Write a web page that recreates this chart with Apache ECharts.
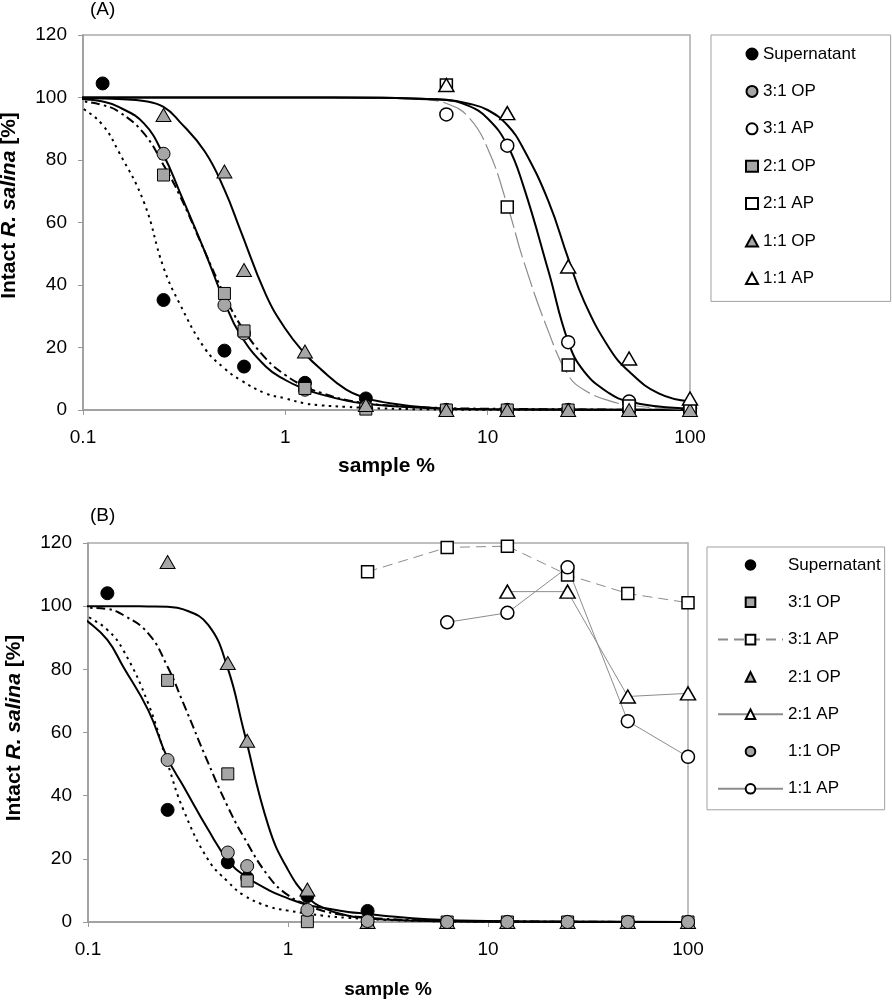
<!DOCTYPE html>
<html><head><meta charset="utf-8">
<script src="https://cdn.jsdelivr.net/npm/echarts@6/dist/echarts.min.js"></script>
<style>html,body{margin:0;padding:0;background:#fff}#c{width:892px;height:1000px}</style>
</head><body><div id="c"></div>
<script>
const FONT = '"Liberation Sans", Arial, sans-serif';

// sample concentrations (%)
const xPts = [0.125, 0.25, 0.5, 0.625, 1.25, 2.5, 6.25, 12.5, 25, 50, 100];

// Panel A measured points
const A_sup   = [104.5, 35.2, 19, 13.9, 8.7, 3.7, 0, 0, 0, 0, 0];
const A_31OP  = [null, 82, 33.6, 24.5, 6.5, 1, 0, 0, 0, 0, 0];
const A_31AP  = [null, null, null, null, null, null, 94.6, 84.6, 21.7, 2.7, 0.5];
const A_21OP  = [null, 75.2, 37.3, 25.3, 6.9, 0.3, 0, 0, 0, 0, 0];
const A_21AP  = [null, null, null, null, null, null, 104, 65, 14.4, 1.3, 0];
const A_11OP  = [null, 94.4, 76.3, 44.8, 18.7, 1.6, 0, 0, 0, 0, 0];
const A_11AP  = [null, null, null, null, null, null, 104, 95, 45.9, 16.5, 3.7];

// Panel B measured points
const B_sup   = [104.1, 35.5, 18.9, 14, 8.2, 3.5, 0, 0, 0, 0, 0];
const B_31OP  = [null, 76.5, 46.9, 13, 0.1, 0, 0, 0, 0, 0, 0];
const B_31AP  = [null, null, null, null, null, 110.9, 118.6, 119, 109.9, 104, 101.1];
const B_21OP  = [null, 114, 82, 57.4, 10.3, 0, 0, 0, 0, 0, 0];
const B_21AP  = [null, null, null, null, null, null, null, 104.6, 104.6, 71.4, 72.4];
const B_11OP  = [null, 51.3, 22, 17.7, 3.8, 0.3, 0, 0, 0, 0, 0];
const B_11AP  = [null, null, null, null, null, null, 94.9, 97.9, 112.3, 63.6, 52.3];

// Fitted curves
const fitX   = [0.088, 0.1, 0.125, 0.15, 0.2, 0.25, 0.3, 0.4, 0.5, 0.6, 0.8, 1, 1.25, 1.5, 2, 2.5, 3, 5, 10, 100];
const A_fitSup  = [98.7, 96.5, 91.2, 82.7, 66.5, 45.6, 34.1, 19.7, 13.3, 9.6, 5.3, 3.7, 2.1, 1.5, 1.0, 0.7, 0.5, 0.2, 0.1, 0];
const A_fit31OP = [100, 99.5, 98.7, 97, 91.7, 81.6, 69.9, 50.7, 34.7, 24, 13.9, 9.6, 6.7, 5, 3, 2, 1.5, 0.6, 0.2, 0];
const A_fit21OP = [99.3, 98.8, 97.6, 95.5, 88.5, 78.4, 68.8, 50.7, 36.8, 27.2, 16.5, 11.2, 7.5, 5.5, 3.2, 2.2, 1.6, 0.8, 0.4, 0];
const A_fit11OP = [100, 99.8, 99.7, 99.5, 98.9, 97, 92.3, 82.7, 70.5, 57.5, 37, 26, 18, 13, 6.5, 3.8, 2.6, 0.8, 0.2, 0];
const fitXhi = [0.088, 1, 3, 5, 6.25, 8, 10, 12.5, 15, 20, 25, 30, 40, 50, 70, 100];
const A_fit31AP = [100, 100, 99.9, 99.5, 99.2, 97.4, 93.3, 84.8, 71.8, 44.3, 21.9, 12.3, 5.3, 2.7, 1.1, 0.5];
const A_fit21AP = [100, 100, 99.8, 99.2, 98.1, 93.9, 83.7, 65.6, 48, 25, 11.2, 6.4, 2.9, 1.6, 0.6, 0.2];
const A_fit11AP = [100, 100, 99.9, 99.5, 99.3, 98.1, 96, 91.2, 83.7, 66.7, 48.5, 34.7, 19.7, 12.3, 5.3, 2.7];

const B_fitSup  = [98.8, 96.7, 92.5, 86.1, 69.2, 50.2, 35.5, 19.6, 12.8, 8.5, 4.9, 3.6, 2.7, 2, 1.3, 1, 0.7, 0.3, 0.1, 0];
const B_fit11OP = [97.2, 95.1, 89.3, 80.8, 67.1, 51.8, 43, 29.1, 19.6, 14.9, 10.1, 7.5, 5.4, 4.5, 3.2, 2.6, 2, 0.9, 0.3, 0];
const B_fit31OP = [99.6, 99.5, 99.1, 97.2, 91.4, 80.8, 69.2, 50.2, 36.5, 27, 14.4, 8.5, 5.4, 3.5, 2, 1.4, 1, 0.5, 0.2, 0];
const B_fit21OP = [100, 100, 100, 100, 99.9, 99.8, 99, 94, 80.3, 60.8, 30.2, 16.5, 8, 4.5, 2, 1.2, 0.8, 0.3, 0.1, 0];

// axis ticks
const yTicks = { min: 0, max: 120, interval: 20 };
const xRange = { min: 0.1, max: 100 };

const legendA = ['Supernatant', '3:1 OP', '3:1 AP', '2:1 OP', '2:1 AP', '1:1 OP', '1:1 AP'];
const legendB = ['Supernatant', '3:1 OP', '3:1 AP', '2:1 OP', '2:1 AP', '1:1 OP', '1:1 AP'];

function pts(vals) { return xPts.map((x, i) => vals[i] == null ? null : [x, vals[i]]).filter(Boolean); }
function fit(xs, vals) { return xs.map((x, i) => [x, vals[i]]); }

const BLACK = { color: '#000', borderColor: '#000', borderWidth: 1, opacity: 1 };
const GRAY  = { color: '#a6a6a6', borderColor: '#000', borderWidth: 1, opacity: 1 };
const OPEN  = { color: '#fff', borderColor: '#000', borderWidth: 1.5, opacity: 1 };
const SYM = {
  circle: { symbol: 'circle', symbolSize: 13 },
  rect: { symbol: 'rect', symbolSize: 12 },
  triangle: { symbol: 'triangle', symbolSize: [15, 13] }
};

function scatter(name, idx, vals, shape, style) {
  return Object.assign({ type: 'scatter', name, xAxisIndex: idx, yAxisIndex: idx, data: pts(vals),
    itemStyle: style, z: 4, silent: true }, SYM[shape]);
}
// point series drawn as a line series so its legend icon matches (line hidden when noLine)
function ptLine(name, idx, vals, shape, style, dash, noLine) {
  return Object.assign({ type: 'line', name, xAxisIndex: idx, yAxisIndex: idx, data: pts(vals),
    itemStyle: style, showSymbol: true, showAllSymbol: true, z: 4, silent: true,
    lineStyle: noLine ? { width: 0, opacity: 0 } : { color: '#8c8c8c', width: 1, type: dash } }, SYM[shape]);
}
function curve(name, idx, xs, vals, ls) {
  return { type: 'line', name, xAxisIndex: idx, yAxisIndex: idx, data: fit(xs, vals),
    showSymbol: false, symbol: 'none', smooth: 0.45, clip: false, silent: true, z: 2,
    lineStyle: ls };
}

const SOLID = { color: '#000', width: 2, type: 'solid' };
const DOT = { color: '#000', width: 2, type: [2.5, 4.5] };
const DASHDOT = { color: '#000', width: 2, type: [9, 4, 2.5, 4] };
const GRAYDASH = { color: '#8c8c8c', width: 1.2, type: [26, 5] };

function xAxis(idx, nameGap, nameSize) {
  return { type: 'log', logBase: 10, gridIndex: idx, min: xRange.min, max: xRange.max,
    name: 'sample %', nameLocation: 'middle', nameGap,
    nameTextStyle: { fontFamily: FONT, fontSize: nameSize, fontWeight: 'bold', color: '#000' },
    axisLine: { show: true, lineStyle: { color: '#999', width: 1.5 } },
    axisTick: { show: true, length: 5, inside: false, lineStyle: { color: '#999' } },
    minorTick: { show: false }, splitLine: { show: false },
    axisLabel: { fontFamily: FONT, fontSize: 19, color: '#000', margin: 18,
      formatter: v => String(+v.toPrecision(6)) } };
}
function yAxis(idx, pad) {
  return { type: 'value', gridIndex: idx, min: yTicks.min, max: yTicks.max, interval: yTicks.interval,
    name: '{b|Intact }{i|R. salina}{b| [%]}', nameLocation: 'middle', nameGap: 63,
    nameTextStyle: { fontFamily: FONT, fontSize: 21, fontWeight: 'bold', color: '#000', padding: [0, 0, 0, pad],
      rich: { b: { fontFamily: FONT, fontSize: 21, fontWeight: 'bold', color: '#000' },
              i: { fontFamily: FONT, fontSize: 21, fontWeight: 'bold', fontStyle: 'italic', color: '#000' } } },
    axisLine: { show: true, lineStyle: { color: '#999', width: 1.5 } },
    axisTick: { show: true, length: 5, inside: false, lineStyle: { color: '#999' } },
    splitLine: { show: false },
    axisLabel: { fontFamily: FONT, fontSize: 19, color: '#000', margin: 16 } };
}

const series = [
  // Panel A fitted curves
  curve('fitA sup', 0, fitX, A_fitSup, DOT),
  curve('fitA 31OP', 0, fitX, A_fit31OP, SOLID),
  curve('fitA 21OP', 0, fitX, A_fit21OP, DASHDOT),
  curve('fitA 11OP', 0, fitX, A_fit11OP, SOLID),
  curve('fitA 21AP', 0, fitXhi, A_fit21AP, GRAYDASH),
  curve('fitA 31AP', 0, fitXhi, A_fit31AP, SOLID),
  curve('fitA 11AP', 0, fitXhi, A_fit11AP, SOLID),
  // Panel A points
  scatter('Supernatant', 0, A_sup, 'circle', BLACK),
  scatter('3:1 OP', 0, A_31OP, 'circle', GRAY),
  scatter('3:1 AP', 0, A_31AP, 'circle', OPEN),
  scatter('2:1 OP', 0, A_21OP, 'rect', GRAY),
  scatter('2:1 AP', 0, A_21AP, 'rect', OPEN),
  scatter('1:1 OP', 0, A_11OP, 'triangle', GRAY),
  scatter('1:1 AP', 0, A_11AP, 'triangle', OPEN),
  // Panel B fitted curves
  curve('fitB sup', 1, fitX, B_fitSup, DOT),
  curve('fitB 31OP', 1, fitX, B_fit31OP, DASHDOT),
  curve('fitB 21OP', 1, fitX, B_fit21OP, SOLID),
  curve('fitB 11OP', 1, fitX, B_fit11OP, SOLID),
  // Panel B points
  ptLine('B|Supernatant', 1, B_sup, 'circle', BLACK, null, true),
  ptLine('B|3:1 OP', 1, B_31OP, 'rect', GRAY, null, true),
  ptLine('B|3:1 AP', 1, B_31AP, 'rect', OPEN, [10, 6], false),
  ptLine('B|2:1 OP', 1, B_21OP, 'triangle', GRAY, null, true),
  ptLine('B|2:1 AP', 1, B_21AP, 'triangle', OPEN, 'solid', false),
  ptLine('B|1:1 OP', 1, B_11OP, 'circle', GRAY, null, true),
  ptLine('B|1:1 AP', 1, B_11AP, 'circle', OPEN, 'solid', false)
];

const legendCommon = {
  orient: 'vertical', selectedMode: false, borderColor: '#a0a0a0', borderWidth: 1, backgroundColor: '#fff',
  textStyle: { fontFamily: FONT, fontSize: 17, color: '#000', lineHeight: 20 }
};

const option = {
  animation: false,
  backgroundColor: '#fff',
  title: [
    { text: '(A)', left: 90, top: 0, padding: 0, textStyle: { fontFamily: FONT, fontSize: 19, fontWeight: 'normal', color: '#000' } },
    { text: '(B)', left: 90, top: 506, padding: 0, textStyle: { fontFamily: FONT, fontSize: 19, fontWeight: 'normal', color: '#000' } }
  ],
  grid: [
    { left: 83, top: 35, width: 607, height: 375, show: true, borderColor: '#aaa', borderWidth: 1.5,
      containLabel: false, outerBoundsMode: 'none' },
    { left: 88, top: 543, width: 600, height: 379, show: true, borderColor: '#aaa', borderWidth: 1.5,
      containLabel: false, outerBoundsMode: 'none' }
  ],
  xAxis: [xAxis(0, 46, 21), xAxis(1, 58, 19)],
  yAxis: [yAxis(0, 34), yAxis(1, 9)],
  legend: [
    Object.assign({}, legendCommon, { left: 711, top: 35, padding: [9, 35, 13, 34], itemWidth: 12, itemHeight: 11, itemGap: 17.4,
      data: legendA }),
    Object.assign({}, legendCommon, { left: 707, top: 547, padding: [8, 4, 11, 10], itemWidth: 65, itemHeight: 12, itemGap: 17.3,
      data: legendB.map(n => 'B|' + n), formatter: n => n.replace('B|', '') })
  ],
  series
};

const chart = echarts.init(document.getElementById('c'), null, { renderer: 'canvas' });
chart.setOption(option);
</script>
</body></html>
